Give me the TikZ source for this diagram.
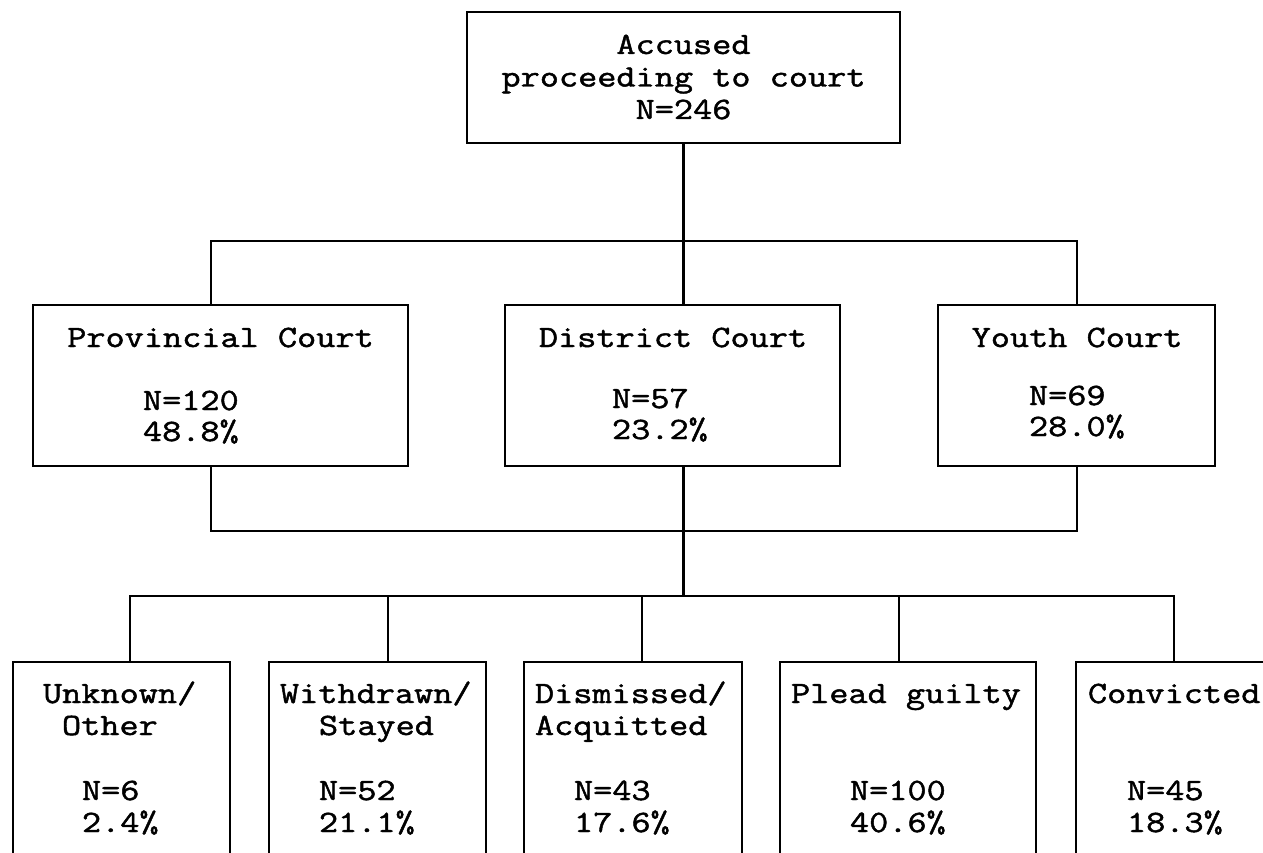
\documentclass[tikz,border=0pt]{standalone}
\usepackage{fontspec}
\newfontfamily\cour[FakeStretch=1.2, FakeBold=1.5]{Latin Modern Mono}
\tikzset{
  box/.style={draw, rectangle, line width=2.8pt, inner sep=0pt, outer sep=0pt},
  conn/.style={line width=2.3pt},
  txt/.style={inner sep=0pt, outer sep=0pt, font=\cour\fontsize{31}{31}\selectfont},
}
\begin{document}
\begin{tikzpicture}[x=1pt, y=-1pt]
\path[use as bounding box, clip] (0,0) rectangle (1263,853);
\fill[white] (0,0) rectangle (1263,853);
% boxes
\node[box, minimum width=433pt, minimum height=131pt] (top) at (683.5,77.5) {};
\node[box, minimum width=375pt, minimum height=161pt] (prov) at (220.5,385.5) {};
\node[box, minimum width=335pt, minimum height=161pt] (dist) at (672.5,385.5) {};
\node[box, minimum width=277pt, minimum height=161pt] (youth) at (1076.5,385.5) {};
\node[box, minimum width=217pt, minimum height=240pt] (unk) at (121.5,782) {};
\node[box, minimum width=217pt, minimum height=240pt] (wd) at (377.5,782) {};
\node[box, minimum width=218pt, minimum height=240pt] (dis) at (633,782) {};
\node[box, minimum width=256pt, minimum height=240pt] (plead) at (908,782) {};
\node[box, minimum width=214pt, minimum height=240pt] (conv) at (1183,782) {};
% texts
\node[txt, anchor=base] (t1) at (683.5,54) {Accused};
\node[txt, anchor=base] (t2) at (683.5,86.5) {proceeding to court};
\node[txt, anchor=base] (t3) at (683.5,119) {N=246};
\node[txt, anchor=base] (p1) at (220.5,347) {Provincial Court};
\node[txt, anchor=base west] (p2) at (143,410) {N=120};
\node[txt, anchor=base west] (p3) at (143,441) {48.8\%};
\node[txt, anchor=base] (d1) at (673,347) {District Court};
\node[txt, anchor=base west] (d2) at (612,408) {N=57};
\node[txt, anchor=base west] (d3) at (612,439) {23.2\%};
\node[txt, anchor=base] (y1) at (1077,347) {Youth Court};
\node[txt, anchor=base west] (y2) at (1029,405) {N=69};
\node[txt, anchor=base west] (y3) at (1029,436) {28.0\%};
\node[txt, anchor=base west] (u1) at (43,703) {Unknown/};
\node[txt, anchor=base west] (u2) at (62,735) {Other};
\node[txt, anchor=base west] (u3) at (82,800) {N=6};
\node[txt, anchor=base west] (u4) at (82,832) {2.4\%};
\node[txt, anchor=base west] (w1) at (280,703) {Withdrawn/};
\node[txt, anchor=base west] (w2) at (319,735) {Stayed};
\node[txt, anchor=base west] (w3) at (319,800) {N=52};
\node[txt, anchor=base west] (w4) at (319,832) {21.1\%};
\node[txt, anchor=base west] (s1) at (535,703) {Dismissed/};
\node[txt, anchor=base west] (s2) at (535,735) {Acquitted};
\node[txt, anchor=base west] (s3) at (574,800) {N=43};
\node[txt, anchor=base west] (s4) at (574,832) {17.6\%};
\node[txt, anchor=base west] (g1) at (791,703) {Plead guilty};
\node[txt, anchor=base west] (g3) at (850,800) {N=100};
\node[txt, anchor=base west] (g4) at (850,832) {40.6\%};
\node[txt, anchor=base west] (c1) at (1088,703) {Convicted};
\node[txt, anchor=base west] (c3) at (1127,800) {N=45};
\node[txt, anchor=base west] (c4) at (1127,832) {18.3\%};
% connectors
\coordinate (j1l) at (211,241);
\coordinate (j1) at (683.5,241);
\coordinate (j1r) at (1077,241);
\coordinate (j2l) at (211,531);
\coordinate (j2) at (683.5,531);
\coordinate (j2r) at (1077,531);
\coordinate (j3) at (683.5,596);
\coordinate (ja) at (130,596);
\coordinate (jb) at (388,596);
\coordinate (jc) at (642,596);
\coordinate (jd) at (899,596);
\coordinate (je) at (1174,596);
\draw[conn] (top.south) -- (j1);
\draw[conn] (j1l |- prov.north) -- (j1l) -- (j1r) -- (j1r |- youth.north);
\draw[conn] (j1) -- (j1 |- dist.north);
\draw[conn] (j2l |- prov.south) -- (j2l) -- (j2r) -- (j2r |- youth.south);
\draw[conn] (j2 |- dist.south) -- (j2) -- (j3);
\draw[conn] (ja |- unk.north) -- (ja) -- (je) -- (je |- conv.north);
\draw[conn] (jb) -- (jb |- wd.north);
\draw[conn] (jc) -- (jc |- dis.north);
\draw[conn] (jd) -- (jd |- plead.north);
\end{tikzpicture}
\end{document}
